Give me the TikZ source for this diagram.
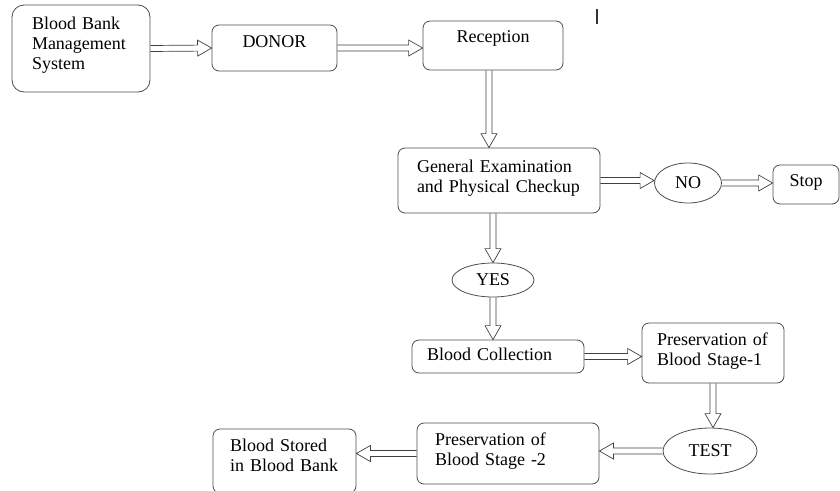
\documentclass[tikz,border=0pt]{standalone}
\usepackage{fontspec}
\setmainfont{Liberation Serif}
\usetikzlibrary{shapes.geometric, calc}
\tikzset{
  stepbox/.style={
    rectangle, rounded corners=7pt, draw=black!70, line width=0.8pt,
    inner sep=0pt, font=\fontsize{18}{20}\selectfont
  },
  decision/.style={
    ellipse, draw=black!70, line width=0.8pt,
    inner sep=0pt, font=\fontsize{18}{20}\selectfont
  },
  % hollow double-line arrow
  flow/.style={
    draw=black!75, line width=0.7pt, line join=miter,
    to path={
      ($(\tikztotarget)!14pt!(\tikztostart)$) coordinate (flowhead)
      ($(\tikztostart)!3pt!90:(\tikztotarget)$)
      -- ($(flowhead)!3pt!90:(\tikztotarget)$)
      -- ($(flowhead)!8pt!90:(\tikztotarget)$)
      -- (\tikztotarget)
      -- ($(flowhead)!8pt!-90:(\tikztotarget)$)
      -- ($(flowhead)!3pt!-90:(\tikztotarget)$)
      -- ($(\tikztostart)!3pt!-90:(\tikztotarget)$)
    }
  }
}

\begin{document}
\begin{tikzpicture}[x=1pt, y=-1pt]
\useasboundingbox (0,0) rectangle (840,490);

\node[stepbox, rounded corners=12pt, minimum width=138pt, minimum height=87pt, text width=98pt, align=left, text depth=51.3pt] (bbms) at (81,48.5) {Blood Bank\\ Management\\ System};
\node[stepbox, minimum width=125pt, minimum height=46pt, text depth=13.9pt] (donor) at (274.5,48) {DONOR};
\node[stepbox, minimum width=140pt, minimum height=49pt, text depth=18.9pt] (reception) at (493,45.5) {Reception};

\node[stepbox, minimum width=202pt, minimum height=65pt, text width=164pt, align=left, text depth=29.3pt] (general) at (499,180.5) {General Examination\\ and Physical Checkup};
\node[decision, minimum width=67pt, minimum height=40pt] (no) at (688,183) {NO};
\node[stepbox, minimum width=66pt, minimum height=39pt, text depth=8.9pt] (stop) at (806,184.5) {Stop};

\node[decision, minimum width=82pt, minimum height=34pt] (yes) at (493,280) {YES};
\node[stepbox, minimum width=172pt, minimum height=33pt, text width=142pt, align=left, text depth=5.3pt] (collect) at (498,356.5) {Blood Collection};
\node[stepbox, minimum width=142pt, minimum height=60pt, text width=112pt, align=left, text depth=28.3pt] (stage1) at (713,353) {Preservation of\\ Blood Stage-1};

\node[decision, minimum width=94pt, minimum height=46pt] (test) at (710,451) {TEST};
\node[stepbox, minimum width=182pt, minimum height=61pt, text width=146pt, align=left, text depth=29.3pt] (stage2) at (508,453.5) {Preservation of\\ Blood Stage -2};
\node[stepbox, minimum width=143pt, minimum height=64pt, text width=109pt, align=left, text depth=32.3pt] (stored) at (284.5,461) {Blood Stored\\ in Blood Bank};

\draw[flow] (bbms.east) to (donor.west);
\draw[flow] (donor.east) to (donor.east -| reception.west);
\draw[flow] ([xshift=-4pt]reception.south) to ([xshift=-4pt]reception.south |- general.north);
\draw[flow] (general.east) to (general.east -| no.west);
\draw[flow] (no.east) to (no.east -| stop.west);
\draw[flow] (general.south -| yes.north) to (yes.north);
\draw[flow] (yes.south) to (yes.south |- collect.north);
\draw[flow] (collect.east) to (collect.east -| stage1.west);
\draw[flow] (stage1.south) to (stage1.south |- test.north);
\draw[flow] (test.west) to (test.west -| stage2.east);
\draw[flow] (stage2.west) to (stage2.west -| stored.east);

% stray mark at the top
\draw[line width=1.6pt, black!80] (597,9) -- (597,24);

\end{tikzpicture}
\end{document}
